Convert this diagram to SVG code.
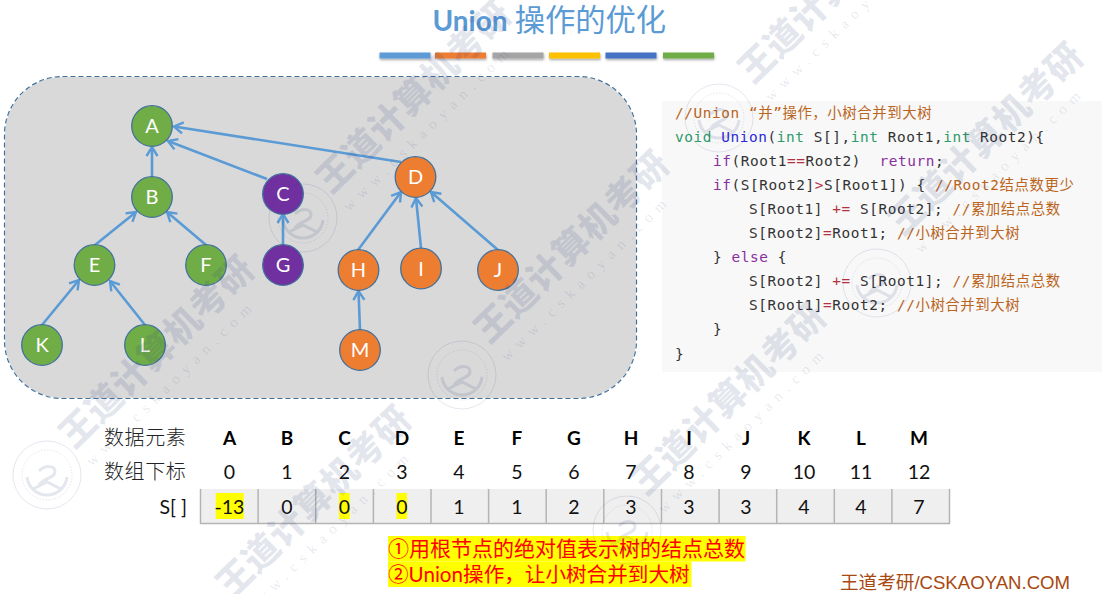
<svg xmlns="http://www.w3.org/2000/svg" width="1110" height="594" viewBox="0 0 1110 594">
<style>
text{font-family:"Lato","Noto Sans CJK SC",sans-serif}
.nd circle{stroke:#41719c;stroke-width:1.3}
.nd text{fill:#fff;font-size:20px;text-anchor:middle}
.g{fill:#70ad47}.p{fill:#7030a0}.o{fill:#ed7d31}
.edge{stroke:#5b9bd5;stroke-width:2.6;fill:none;marker-end:url(#arr)}
.bar{filter:url(#sh)}
.code{font-family:"DejaVu Sans Mono","Noto Sans CJK SC",monospace;font-size:14.4px;letter-spacing:.58px;fill:#333;white-space:pre}
.cm{fill:#bb6420}.kw{fill:#2e9a6a}.pu{fill:#8a2f9e}.op{fill:#b5303f}.fn{fill:#2a2ad8}
.h{font-size:19px;font-weight:700;fill:#000;text-anchor:middle}
.n{font-size:19.5px;fill:#111;text-anchor:middle}
.lb{font-size:20px;fill:#222;letter-spacing:.6px;font-weight:300}
.cell{fill:#efefef}
.sep{stroke:#b4b4b4;stroke-width:1.5}
.hl{fill:#ffff00}
.red{fill:#ff0000}
.wm{font-family:"Noto Sans CJK SC",sans-serif;font-weight:900;font-size:36px;fill:#28387e;fill-opacity:.12;letter-spacing:.5px}
.wu{font-family:"Liberation Serif",serif;font-size:15px;fill:#28387e;fill-opacity:.12;letter-spacing:6.9px}
.seal circle,.seal path{fill:none;stroke:#28387e;stroke-opacity:.12}
</style>
<defs>
<marker id="arr" markerUnits="userSpaceOnUse" markerWidth="16" markerHeight="16" refX="13" refY="8" orient="auto">
<path d="M4 2.5L13 8L4 13.5" fill="none" stroke="#5b9bd5" stroke-width="2.4"/>
</marker>
<filter id="sh" x="-10%" y="-50%" width="120%" height="220%"><feDropShadow dx="0.5" dy="1.5" stdDeviation="1" flood-color="#000" flood-opacity=".35"/></filter>
<g id="sealm" class="seal">
<circle r="34" stroke-width="1"/><circle r="25" stroke-width="1" stroke-dasharray="1.5 1.5"/>
<path d="M-20 2A20 20 0 0 0 0 20A20 20 0 0 0 20 2M-8 -4C-2 -10 8 -10 8 -3C8 3 -4 3 -8 10M-14 14L0 7L14 14" stroke-width="3"/>
</g>
</defs>

<text x="432.5" y="31" font-size="28" font-weight="700" fill="#5b9bd5" id="title">Union<tspan font-size="30.3" font-weight="400" dx="7" style="font-family:'Noto Sans CJK SC',sans-serif">操作的优化</tspan></text>
<g id="title-bars">
<rect class="bar" x="379.5" y="52.5" width="51" height="6" fill="#5b9bd5"/>
<rect class="bar" x="435" y="52.5" width="51" height="6" fill="#ed7d31"/>
<rect class="bar" x="492.5" y="52.5" width="51" height="6" fill="#a5a5a5"/>
<rect class="bar" x="549" y="52.5" width="51" height="6" fill="#ffc000"/>
<rect class="bar" x="605.5" y="52.5" width="51" height="6" fill="#4472c4"/>
<rect class="bar" x="663" y="52.5" width="51" height="6" fill="#70ad47"/>
</g>

<g id="panel">
<rect x="4.5" y="76.5" width="632" height="322" rx="58" fill="#d9d9d9" stroke="#fff" stroke-width="1.2"/>
<rect x="4.5" y="76.5" width="632" height="322" rx="58" fill="none" stroke="#41719c" stroke-width="1.2" stroke-dasharray="5 3"/>
</g>

<g id="connectors">
<line class="edge" x1="152" y1="177" x2="152" y2="147"/>
<line class="edge" x1="267" y1="179" x2="168" y2="141"/>
<line class="edge" x1="401" y1="162" x2="174" y2="126.5"/>
<line class="edge" x1="95" y1="245" x2="136" y2="212"/>
<line class="edge" x1="206" y1="245" x2="167" y2="212"/>
<line class="edge" x1="42" y1="325" x2="79" y2="280"/>
<line class="edge" x1="145" y1="325" x2="110" y2="281"/>
<line class="edge" x1="283" y1="245" x2="283" y2="214"/>
<line class="edge" x1="358" y1="250" x2="401" y2="192"/>
<line class="edge" x1="421" y1="248" x2="416" y2="198"/>
<line class="edge" x1="498" y1="250" x2="431" y2="192"/>
<line class="edge" x1="360" y1="330" x2="358.5" y2="291"/>
</g>

<g id="node-A" class="nd"><circle class="g" cx="152" cy="126" r="20.3"/><text x="152" y="133">A</text></g>
<g id="node-B" class="nd"><circle class="g" cx="152" cy="197" r="20.3"/><text x="152" y="204">B</text></g>
<g id="node-C" class="nd"><circle class="p" cx="283" cy="194" r="20.3"/><text x="283" y="201">C</text></g>
<g id="node-D" class="nd"><circle class="o" cx="415.5" cy="177" r="20.3"/><text x="415.5" y="184">D</text></g>
<g id="node-E" class="nd"><circle class="g" cx="94.5" cy="265" r="20.3"/><text x="94.5" y="272">E</text></g>
<g id="node-F" class="nd"><circle class="g" cx="206" cy="265" r="20.3"/><text x="206" y="272">F</text></g>
<g id="node-G" class="nd"><circle class="p" cx="283" cy="265" r="20.3"/><text x="283" y="272">G</text></g>
<g id="node-H" class="nd"><circle class="o" cx="358.5" cy="270" r="20.3"/><text x="358.5" y="277">H</text></g>
<g id="node-I" class="nd"><circle class="o" cx="421" cy="268.5" r="20.3"/><text x="421" y="275.5">I</text></g>
<g id="node-J" class="nd"><circle class="o" cx="498" cy="270" r="20.3"/><text x="498" y="277">J</text></g>
<g id="node-K" class="nd"><circle class="g" cx="42" cy="345" r="20.3"/><text x="42" y="352">K</text></g>
<g id="node-L" class="nd"><circle class="g" cx="145" cy="345" r="20.3"/><text x="145" y="352">L</text></g>
<g id="node-M" class="nd"><circle class="o" cx="360" cy="350" r="20.3"/><text x="360" y="357">M</text></g>

<g id="code">
<rect x="662" y="101" width="440" height="271" fill="#f8f8f8"/>
<text class="code cm" x="675" y="118">//Union “并”操作，小树合并到大树</text>
<text class="code" x="675" y="142"><tspan class="kw">void</tspan> <tspan class="fn">Union</tspan>(<tspan class="kw">int</tspan> S[],<tspan class="kw">int</tspan> Root1,<tspan class="kw">int</tspan> Root2){</text>
<text class="code" x="713" y="166"><tspan class="pu">if</tspan>(Root1<tspan class="op">==</tspan>Root2)  <tspan class="pu">return</tspan>;</text>
<text class="code" x="713" y="190"><tspan class="pu">if</tspan>(S[Root2]<tspan class="op">&gt;</tspan>S[Root1]) { <tspan class="cm">//Root2结点数更少</tspan></text>
<text class="code" x="749" y="214">S[Root1] <tspan class="op">+=</tspan> S[Root2]; <tspan class="cm">//累加结点总数</tspan></text>
<text class="code" x="749" y="238">S[Root2]<tspan class="op">=</tspan>Root1; <tspan class="cm">//小树合并到大树</tspan></text>
<text class="code" x="713" y="262">} <tspan class="pu">else</tspan> {</text>
<text class="code" x="749" y="286">S[Root2] <tspan class="op">+=</tspan> S[Root1]; <tspan class="cm">//累加结点总数</tspan></text>
<text class="code" x="749" y="310">S[Root1]<tspan class="op">=</tspan>Root2; <tspan class="cm">//小树合并到大树</tspan></text>
<text class="code" x="713" y="334">}</text>
<text class="code" x="675" y="359">}</text>
</g>

<g id="table">
<text class="lb" x="104" y="445">数据元素</text>
<text class="lb" x="104" y="479">数组下标</text>
<text x="187" y="514" font-size="19.5" fill="#111" text-anchor="end">S[ ]</text>
<rect class="cell" x="200.5" y="489" width="749" height="34"/>
<rect class="hl" x="215.7" y="493" width="28" height="26"/>
<rect class="hl" x="339" y="493" width="10.6" height="26"/>
<rect class="hl" x="396.5" y="493" width="10.6" height="26"/>
<g class="sep">
<line x1="200.5" y1="489" x2="200.5" y2="524"/><line x1="258.1" y1="489" x2="258.1" y2="524"/><line x1="315.7" y1="489" x2="315.7" y2="524"/><line x1="373.4" y1="489" x2="373.4" y2="524"/><line x1="431" y1="489" x2="431" y2="524"/><line x1="488.6" y1="489" x2="488.6" y2="524"/><line x1="546.2" y1="489" x2="546.2" y2="524"/><line x1="603.8" y1="489" x2="603.8" y2="524"/><line x1="661.5" y1="489" x2="661.5" y2="524"/><line x1="719.1" y1="489" x2="719.1" y2="524"/><line x1="776.7" y1="489" x2="776.7" y2="524"/><line x1="834.3" y1="489" x2="834.3" y2="524"/><line x1="891.9" y1="489" x2="891.9" y2="524"/><line x1="949.5" y1="489" x2="949.5" y2="524"/>
<line x1="200" y1="523.5" x2="950" y2="523.5"/>
</g>
<text class="h" x="229.5" y="445">A</text><text class="h" x="287" y="445">B</text><text class="h" x="344.5" y="445">C</text><text class="h" x="402" y="445">D</text><text class="h" x="459" y="445">E</text><text class="h" x="517" y="445">F</text><text class="h" x="574" y="445">G</text><text class="h" x="631" y="445">H</text><text class="h" x="689" y="445">I</text><text class="h" x="746" y="445">J</text><text class="h" x="804" y="445">K</text><text class="h" x="861" y="445">L</text><text class="h" x="919" y="445">M</text>
<text class="n" x="229.5" y="479">0</text><text class="n" x="287" y="479">1</text><text class="n" x="344.5" y="479">2</text><text class="n" x="402" y="479">3</text><text class="n" x="459" y="479">4</text><text class="n" x="517" y="479">5</text><text class="n" x="574" y="479">6</text><text class="n" x="631" y="479">7</text><text class="n" x="689" y="479">8</text><text class="n" x="746" y="479">9</text><text class="n" x="804" y="479">10</text><text class="n" x="861" y="479">11</text><text class="n" x="919" y="479">12</text>
<text class="n" x="229.5" y="514">-13</text><text class="n" x="287" y="514">0</text><text class="n" x="344.5" y="514">0</text><text class="n" x="402" y="514">0</text><text class="n" x="459" y="514">1</text><text class="n" x="517" y="514">1</text><text class="n" x="574" y="514">2</text><text class="n" x="631" y="514">3</text><text class="n" x="689" y="514">3</text><text class="n" x="746" y="514">3</text><text class="n" x="804" y="514">4</text><text class="n" x="861" y="514">4</text><text class="n" x="919" y="514">7</text>
</g>

<g id="notes">
<rect class="hl" x="388" y="536" width="357.5" height="25.5"/>
<rect class="hl" x="388" y="561.5" width="303.5" height="25.5"/>
<text class="red" x="388" y="556" font-size="21" style="font-family:'Noto Sans CJK SC',sans-serif">①用根节点的绝对值表示树的结点总数</text>
<text class="red" x="388" y="582" font-size="20.6" style="font-family:'Noto Sans CJK SC',sans-serif">②<tspan style="font-family:'Lato'">Union</tspan>操作，让小树合并到大树</text>
<text x="840" y="589" font-size="18.6" fill="#a8480f" style="font-family:'Liberation Sans','Noto Sans CJK SC',sans-serif">王道考研/CSKAOYAN.COM</text>
</g>

<g id="watermarks">
<text class="wm" transform="translate(74,450) rotate(-44.3)">王道计算机考研</text>
<text class="wm" transform="translate(331,195) rotate(-44.3)">王道计算机考研</text>
<text class="wm" transform="translate(231,600) rotate(-44.3)">王道计算机考研</text>
<text class="wm" transform="translate(489,345) rotate(-44.3)">王道计算机考研</text>
<text class="wm" transform="translate(753,85) rotate(-44.3)">王道计算机考研</text>
<text class="wm" transform="translate(646,497) rotate(-44.3)">王道计算机考研</text>
<text class="wm" transform="translate(903,237) rotate(-44.3)">王道计算机考研</text>
<text class="wu" transform="translate(92,467) rotate(-44.3)">www.cskaoyan.com</text>
<text class="wu" transform="translate(349,212) rotate(-44.3)">www.cskaoyan.com</text>
<text class="wu" transform="translate(249,617) rotate(-44.3)">www.cskaoyan.com</text>
<text class="wu" transform="translate(507,362) rotate(-44.3)">www.cskaoyan.com</text>
<text class="wu" transform="translate(771,102) rotate(-44.3)">www.cskaoyan.com</text>
<text class="wu" transform="translate(664,514) rotate(-44.3)">www.cskaoyan.com</text>
<text class="wu" transform="translate(921,254) rotate(-44.3)">www.cskaoyan.com</text>
<use href="#sealm" x="47" y="475"/>
<use href="#sealm" x="303" y="218"/>
<use href="#sealm" x="462" y="375"/>
<use href="#sealm" x="627" y="530"/>
<use href="#sealm" x="719" y="118"/>
<use href="#sealm" x="877" y="283"/>
</g>
</svg>
